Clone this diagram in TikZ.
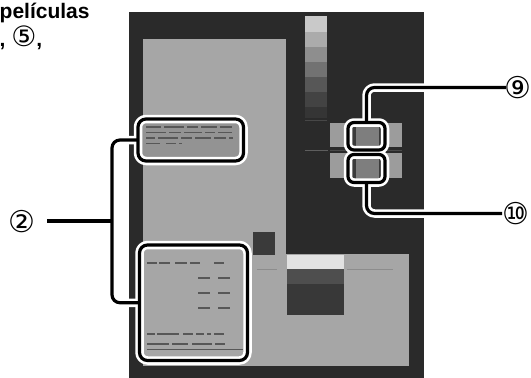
\documentclass[tikz,border=0pt]{standalone}
\usepackage{fontspec}
\setmainfont{Liberation Sans}
\newfontfamily\circfont{DejaVu Sans}
\definecolor{bgdark}{HTML}{2A2A2A}
\definecolor{lightp}{HTML}{A6A6A6}
\definecolor{txtbox}{HTML}{939393}
\definecolor{txtc}{HTML}{575757}
\definecolor{blk}{HTML}{9C9C9C}
\definecolor{blkin}{HTML}{7E7E7E}
\definecolor{stripe}{HTML}{3A3A3A}
\definecolor{gA}{HTML}{C9C9C9}
\definecolor{gB}{HTML}{ABABAB}
\definecolor{gC}{HTML}{8E8E8E}
\definecolor{gD}{HTML}{727272}
\definecolor{gE}{HTML}{575757}
\definecolor{gF}{HTML}{434343}
\definecolor{gG}{HTML}{353535}
\definecolor{lnA}{HTML}{474747}
\definecolor{lnB}{HTML}{5E5E5E}
\definecolor{lnC}{HTML}{4A4A4A}
\definecolor{lnD}{HTML}{8C8C8C}
\definecolor{sqc}{HTML}{3A3A3A}
\definecolor{bandA}{HTML}{E2E2E2}
\definecolor{bandB}{HTML}{4E4E4E}
\definecolor{bandC}{HTML}{383838}
\begin{document}
\begin{tikzpicture}[x=1pt,y=-1pt,
  fr/.style={inner sep=0pt, outer sep=0pt, draw=none},
  lbl/.style={inner sep=0pt, font=\circfont\fontsize{30}{32}\selectfont},
  txt/.style={draw=txtc, line width=1.2pt},
  worda/.style={dash pattern=on 15pt off 3pt on 20pt off 3pt on 11pt off 3pt on 16pt off 3pt on 12pt off 3pt},
  wordb/.style={dash pattern=on 20pt off 3pt on 12pt off 3pt on 18pt off 3pt on 10pt off 3pt on 14pt off 3pt}]
\useasboundingbox (0,0) rectangle (531,378);

% heading text
\node[anchor=base west, inner sep=0pt, font=\bfseries\fontsize{21}{24}\selectfont] (t1) at (-0.5,18) {películas};
\node[anchor=base west, inner sep=0pt, font=\bfseries\fontsize{21}{24}\selectfont] (t2) at (-0.5,46) {, {\circfont\mdseries\fontsize{28}{30}\selectfont ⑤},};

% screen
\fill[bgdark] (129,12) rectangle (424,378);
\fill[lightp] (143,39) rectangle (286,366);
\fill[lightp] (286,254) rectangle (409,366);
\fill[txtbox] (141,122) rectangle (241,158);

% grey scale bar
\fill[gA] (305,16) rectangle (327,32);
\fill[gB] (305,32) rectangle (327,47);
\fill[gC] (305,47) rectangle (327,62);
\fill[gD] (305,62) rectangle (327,77);
\fill[gE] (305,77) rectangle (327,92);
\fill[gF] (305,92) rectangle (327,107);
\fill[gG] (305,107) rectangle (327,118);
\draw[lnA, line width=0.6pt] (305,120) -- (327,120);
\draw[lnB, line width=0.9pt] (305,150) -- (328,150);

% right blocks
\fill[blk] (330,123) rectangle (402,147);
\fill[blk] (330,153) rectangle (402,178);
\fill[blkin] (352,124) rectangle (383,148);
\fill[blkin] (352,156) rectangle (383,181);
\fill[stripe] (352,124) rectangle (356,148);
\fill[stripe] (379,124) rectangle (383,148);
\fill[stripe] (352,156) rectangle (356,181);
\fill[stripe] (379,156) rectangle (383,181);
\draw[lnC, line width=0.8pt] (330,150) -- (402,150);

% dark square and lower block
\fill[sqc] (253,232) rectangle (275,255);
\fill[bandA] (287,255) rectangle (344,269);
\fill[bandB] (287,269) rectangle (344,284);
\fill[bandC] (287,284) rectangle (344,315);
\draw[lnD, line width=0.7pt] (257,269) -- (277,269);
\draw[lnD, line width=0.7pt] (347,269) -- (393,269);

% illegible on-screen text (drawn as strokes)
\draw[txt, worda] (146,127) -- (232,127);
\draw[txt, wordb] (146,132.5) -- (232,132.5);
\draw[txt, worda, dash phase=6pt] (146,138) -- (233,138);
\draw[txt, dash pattern=on 14pt off 6pt on 10pt off 3pt] (146,143.5) -- (182,143.5);

\draw[txt, dash pattern=on 10pt off 2pt on 11pt off 5pt on 12pt off 3pt on 10pt off 14pt on 10pt off 10pt on 11pt] (147,263) -- (230,263);
\foreach \yy in {278,293,308} {\draw[txt, dash pattern=on 12pt off 8pt on 12pt] (198,\yy) -- (230,\yy);}
\draw[txt, dash pattern=on 8pt off 2pt on 22pt off 4pt on 10pt off 3pt on 8pt off 3pt on 4pt off 3pt on 10pt] (147,334) -- (228,334);
\draw[txt, dash pattern=on 22pt off 3pt on 16pt off 4pt on 20pt off 3pt on 12pt] (147,344) -- (225,344);
\draw[txtc, line width=0.6pt] (147,349) -- (243,349);

% frame placeholders
\node[fr, minimum width=105.5pt, minimum height=42pt] (fa) at (190.75,140) {};
\node[fr, minimum width=108pt, minimum height=115.5pt] (fb) at (193.5,302.75) {};
\node[fr, minimum width=37pt, minimum height=27.5pt] (f9) at (366.5,136.25) {};
\node[fr, minimum width=37pt, minimum height=28pt] (f10) at (366.5,168.5) {};

% labels
\node[lbl] (c2) at (22,222) {②};
\node[lbl] (c9) at (518,87.5) {⑨};
\node[lbl] (c10) at (516,214) {⑩};
\coordinate (e2) at (47,221);
\coordinate (bk) at (112,221);
\coordinate (e9) at (506,87.5);
\coordinate (e10) at (502,213.5);

% frames and leaders: white halo, then black line
\foreach \col/\wid in {white/8.5pt, black/3.2pt} {
  \draw[draw=\col, line width=\wid, rounded corners=8pt, line join=round]
    (fa.north west) rectangle (fa.south east)
    (fb.north west) rectangle (fb.south east);
  \draw[draw=\col, line width=\wid, rounded corners=6pt, line join=round]
    (f9.north west) rectangle (f9.south east)
    (f10.north west) rectangle (f10.south east);
  \draw[draw=\col, line width=\wid, rounded corners=8pt, line join=round]
    (f9.north) |- (e9)
    (f10.south) |- (e10)
    (fa.west) -| (bk) |- (fb.west);
  \draw[draw=\col, line width=\wid] (e2) -- (bk);
}
\end{tikzpicture}
\end{document}
